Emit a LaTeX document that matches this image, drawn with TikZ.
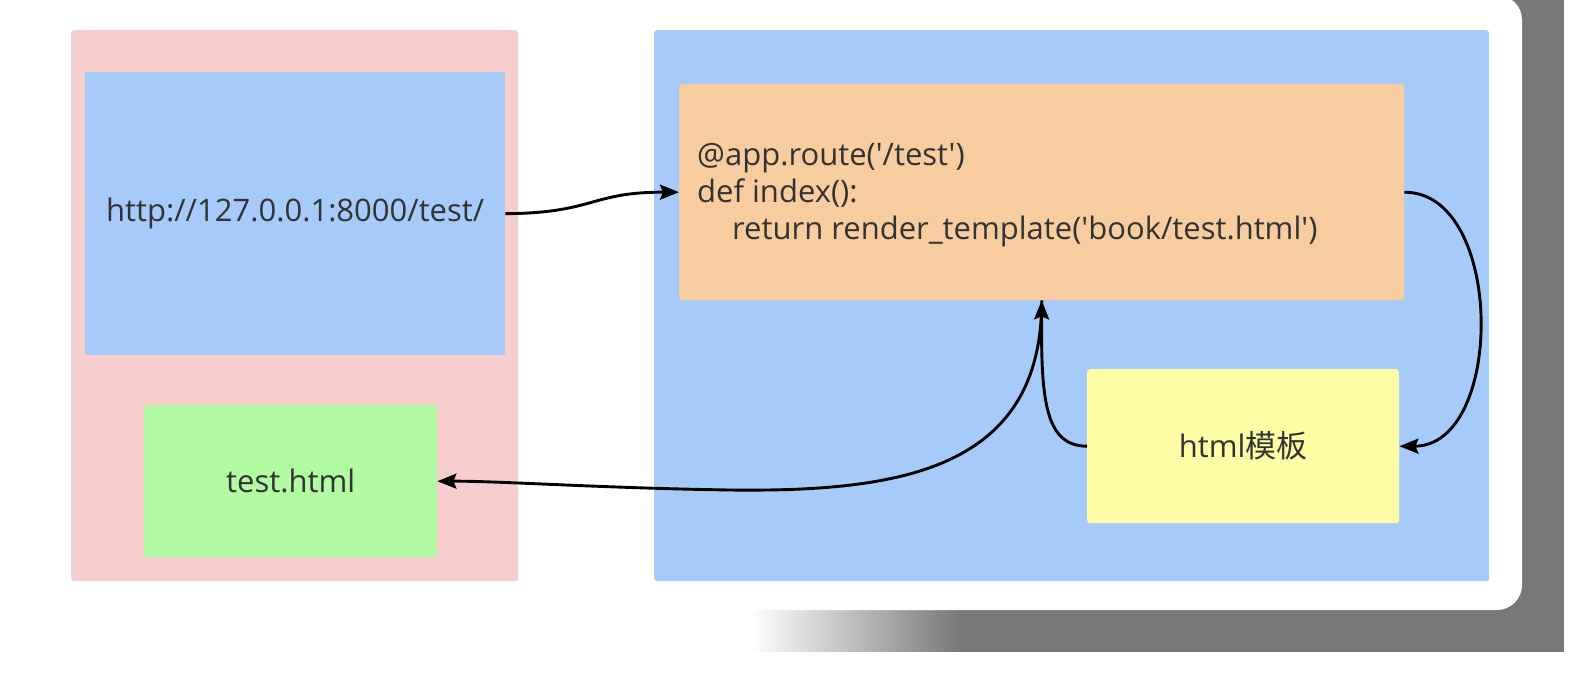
\documentclass[tikz,border=0pt]{standalone}
\usepackage{fontspec}
\setmainfont{Open Sans}[Ligatures=TeXOff]
\newfontfamily\cjkfont{Noto Sans CJK SC}
\usetikzlibrary{arrows.meta}
\definecolor{pinkbg}{HTML}{F7CECE}
\definecolor{bluebg}{HTML}{A6CAF9}
\definecolor{orangebg}{HTML}{F7CD9F}
\definecolor{greenbg}{HTML}{B1FBA2}
\definecolor{yellowbg}{HTML}{FFFDA5}
\definecolor{shadowgrey}{HTML}{787878}
\definecolor{txt}{HTML}{333333}
\tikzset{
  box/.style={draw=none, rounded corners=3pt, inner sep=0pt, anchor=north west, text=txt},
  conn/.style={line width=2.9pt, -{Stealth[length=19pt,width=15pt,inset=3pt]}},
  lbl/.style={font=\fontsize{31}{37}\selectfont}
}
\begin{document}
\begin{tikzpicture}[x=1pt,y=-1pt]
\useasboundingbox (0,0) rectangle (1594,672);
\fill[white] (0,0) rectangle (1594,672);
% screenshot shadow
\fill[shadowgrey] (1480,0) rectangle (1564,652);
\fill[shadowgrey] (959,595) rectangle (1564,652);
\foreach \i in {0,2,...,210} {
  \pgfmathsetmacro{\p}{\i/2.1}
  \fill[shadowgrey!\p!white] (750+\i,595) rectangle (752.6+\i,652);
}
\fill[white, rounded corners=25pt] (-60,-5) rectangle (1522,610);
% containers
\node[box, fill=pinkbg, minimum width=447pt, minimum height=551pt] (pink) at (71,30) {};
\node[box, fill=bluebg, minimum width=835pt, minimum height=551pt] (rblue) at (654,30) {};
\node[box, fill=bluebg, rounded corners=0pt, minimum width=420pt, minimum height=283pt] (inblue) at (85,72) {};
\node[box, fill=greenbg, minimum width=293pt, minimum height=152pt] (green) at (144,405) {};
\node[box, fill=orangebg, minimum width=725pt, minimum height=216pt] (orange) at (679,84) {};
\node[box, fill=yellowbg, minimum width=312pt, minimum height=154pt] (yellow) at (1087,369) {};
% texts
\node[lbl, text=txt] (url) at (inblue.center) {http://127.0.0.1:8000/test/};
\node[lbl, text=txt] (testhtml) at (green.center) {test.html};
\node[lbl, text=txt] (tpl) at (yellow.center) {html{\cjkfont 模板}};
\node[lbl, text=txt, anchor=west, align=left, inner sep=0pt] (code) at (697,195)
  {@app.route('/test')\\def index():\\\hspace*{35pt}return render\_template('book/test.html')};
% connectors
\coordinate (jn) at (orange.south);
\draw[conn] (inblue.east) .. controls (595,213) and (590,192) .. (orange.west);
\draw[conn] (orange.east) .. controls (1505,192) and (1505,446) .. (yellow.east);
\draw[conn] (yellow.west) .. controls (1045,446) and (1041,400) .. (jn);
\draw[conn] (jn) .. controls (1042,470) and (900,492) .. (730,490)
  .. controls (600,488) and (500,481) .. (green.east);
\end{tikzpicture}
\end{document}
